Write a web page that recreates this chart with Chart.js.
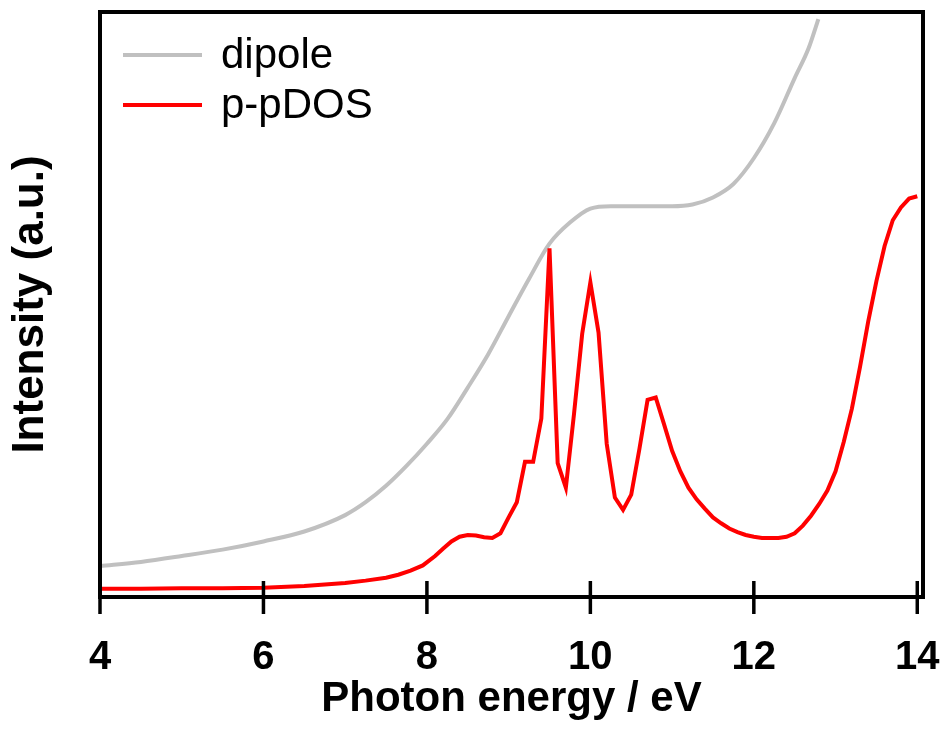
<!DOCTYPE html>
<html>
<head>
<meta charset="utf-8">
<script src="https://cdn.jsdelivr.net/npm/chart.js@4/dist/chart.umd.min.js"></script>
<style>
  html, body { margin: 0; padding: 0; background: #ffffff; }
  #wrap { width: 942px; height: 729px; }
</style>
</head>
<body>
<div id="wrap"><canvas id="c" width="942" height="729"></canvas></div>
<script>
// ---- data ----
const xTicks = [4, 6, 8, 10, 12, 14];

const dipoleEnergy = [4.0, 4.5, 5.0, 5.5, 6.0, 6.5, 7.0, 7.25, 7.5, 7.75, 8.0, 8.25, 8.5, 8.75, 9.0, 9.25, 9.5, 9.75, 10.0, 10.25, 10.5, 10.75, 11.0, 11.25, 11.5, 11.75, 12.0, 12.25, 12.5, 12.67, 12.79];
const dipoleIntensity = [5.3, 6.0, 7.0, 8.1, 9.5, 11.2, 14.0, 16.2, 19.0, 22.4, 26.2, 30.4, 35.8, 41.5, 48.0, 54.4, 60.4, 64.0, 66.4, 66.8, 66.8, 66.8, 66.8, 67.1, 68.3, 70.6, 75.0, 81.0, 88.7, 93.8, 98.8];

const pdosEnergy = [4.0, 4.5, 5.0, 5.5, 6.0, 6.5, 7.0, 7.25, 7.5, 7.65, 7.8, 7.95, 8.1, 8.2, 8.3, 8.4, 8.5, 8.6, 8.7, 8.8, 8.9, 9.0, 9.1, 9.2, 9.3, 9.4, 9.5, 9.6, 9.7, 9.8, 9.9, 10.0, 10.1, 10.2, 10.3, 10.4, 10.5, 10.6, 10.7, 10.8, 10.9, 11.0, 11.1, 11.2, 11.3, 11.4, 11.5, 11.6, 11.7, 11.8, 11.9, 12.0, 12.1, 12.2, 12.3, 12.4, 12.5, 12.6, 12.7, 12.8, 12.9, 13.0, 13.1, 13.2, 13.3, 13.4, 13.5, 13.6, 13.7, 13.8, 13.9, 14.0];
const pdosIntensity = [1.4, 1.4, 1.5, 1.5, 1.6, 1.9, 2.4, 2.8, 3.3, 3.8, 4.5, 5.4, 7.0, 8.3, 9.5, 10.3, 10.6, 10.5, 10.2, 10.1, 10.9, 13.6, 16.2, 23.1, 23.1, 30.5, 59.6, 22.9, 18.7, 31.3, 45.0, 53.8, 45.2, 26.2, 17.0, 14.9, 17.5, 25.3, 33.7, 34.1, 29.6, 25.0, 21.5, 18.7, 16.7, 15.1, 13.6, 12.6, 11.7, 11.1, 10.6, 10.3, 10.1, 10.1, 10.1, 10.3, 10.9, 12.2, 13.9, 15.9, 18.2, 21.5, 26.5, 32.2, 39.4, 47.1, 54.0, 60.0, 64.4, 66.6, 68.1, 68.5];

const seriesLabels = ['dipole', 'p-pDOS'];
const xTitle = 'Photon energy / eV';
const yTitle = 'Intensity (a.u.)';

// ---- build ----
const toPoints = (xs, ys) => xs.map((x, i) => ({ x: x, y: ys[i] }));
const FONT = '"Liberation Sans", Arial, sans-serif';

const frameAndLegend = {
  id: 'frameAndLegend',
  afterDatasetsDraw(chart) {
    const ctx = chart.ctx;
    const a = chart.chartArea;
    const xs = chart.scales.x;
    ctx.save();
    // frame
    ctx.strokeStyle = '#000';
    ctx.lineWidth = 4;
    ctx.strokeRect(a.left, a.top, a.right - a.left, a.bottom - a.top);
    // tick marks crossing the axis
    ctx.lineWidth = 3.5;
    xs.ticks.forEach(t => {
      const px = xs.getPixelForValue(t.value);
      ctx.beginPath();
      ctx.moveTo(px, a.bottom - 16);
      ctx.lineTo(px, a.bottom + 17);
      ctx.stroke();
    });
    // legend inside the plot
    ctx.font = '42px ' + FONT;
    ctx.textBaseline = 'middle';
    ctx.textAlign = 'left';
    chart.data.datasets.forEach((ds, i) => {
      const y = 55 + i * 50;
      ctx.strokeStyle = ds.borderColor;
      ctx.lineWidth = ds.borderWidth;
      ctx.beginPath();
      ctx.moveTo(123, y);
      ctx.lineTo(202, y);
      ctx.stroke();
      ctx.fillStyle = '#000';
      ctx.fillText(ds.label, 221, y + 1);
    });
    ctx.restore();
  }
};

new Chart(document.getElementById('c'), {
  type: 'line',
  data: {
    datasets: [
      {
        label: seriesLabels[0],
        data: toPoints(dipoleEnergy, dipoleIntensity),
        borderColor: '#c0c0c0',
        borderWidth: 4,
        pointRadius: 0,
        cubicInterpolationMode: 'monotone',
        fill: false,
        order: 1
      },
      {
        label: seriesLabels[1],
        data: toPoints(pdosEnergy, pdosIntensity),
        borderColor: '#ff0000',
        borderWidth: 4,
        pointRadius: 0,
        tension: 0,
        fill: false,
        order: 0
      }
    ]
  },
  options: {
    responsive: false,
    animation: false,
    layout: { padding: { top: 12, right: 19, left: 0, bottom: 0 } },
    plugins: {
      legend: { display: false },
      tooltip: { enabled: false }
    },
    scales: {
      x: {
        type: 'linear',
        min: 4,
        max: 14.07,
        afterBuildTicks(scale) {
          scale.ticks = xTicks.map(v => ({ value: v }));
        },
        afterFit(scale) {
          scale.height = 132;
          scale.paddingLeft = 0;
          scale.paddingRight = 0;
        },
        ticks: {
          includeBounds: false,
          color: '#000',
          padding: 29,
          font: { family: FONT, size: 40, weight: 'bold' }
        },
        grid: { display: false, drawOnChartArea: false },
        border: { display: false },
        title: {
          display: true,
          text: xTitle,
          color: '#000',
          padding: { top: 0, bottom: 4 },
          font: { family: FONT, size: 42, weight: 'bold' }
        }
      },
      y: {
        type: 'linear',
        min: 0,
        max: 100,
        afterFit(scale) {
          scale.width = 100;
          scale.paddingTop = 0;
          scale.paddingBottom = 0;
        },
        ticks: { display: false },
        grid: { display: false },
        border: { display: false },
        title: {
          display: true,
          text: yTitle,
          color: '#000',
          padding: { top: 4, bottom: 0 },
          font: { family: FONT, size: 44, weight: 'bold' }
        }
      }
    }
  },
  plugins: [frameAndLegend]
});
</script>
</body>
</html>
